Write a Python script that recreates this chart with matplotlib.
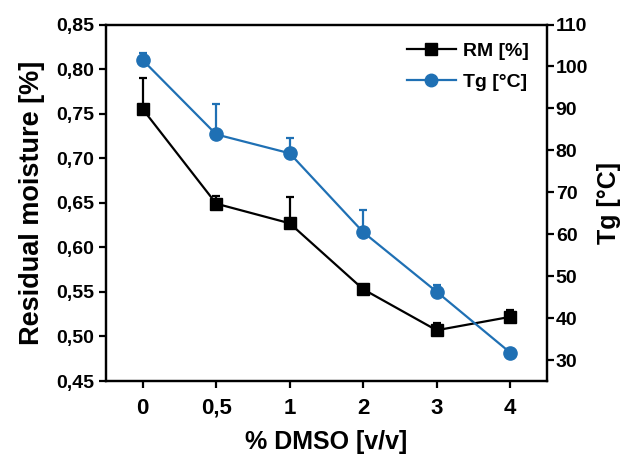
import numpy as np
import matplotlib.pyplot as plt
from matplotlib.lines import Line2D

plt.rcParams['font.family'] = ['Liberation Sans', 'DejaVu Sans']
plt.rcParams['font.weight'] = 'bold'

# data
dmso_labels = ['0', '0,5', '1', '2', '3', '4']
rm = [0.755, 0.649, 0.627, 0.553, 0.507, 0.522]
rm_err = [0.035, 0.009, 0.029, 0.002, 0.008, 0.008]
tg = [101.5, 83.8, 79.3, 60.5, 46.3, 31.8]
tg_err = [1.6, 7.2, 3.6, 5.3, 1.6, 0.0]

blue = '#1f70b4'
x = np.arange(len(dmso_labels))

fig = plt.figure(figsize=(6.2, 4.58), dpi=100)
ax = fig.add_axes([0.171, 0.168, 0.711, 0.7785])
ax2 = ax.twinx()

# one sided error bars (upper only)
ax.errorbar(x, rm, yerr=[np.zeros(len(rm)), rm_err], color='black',
            marker='s', markersize=8.5, lw=1.6, capsize=3, capthick=1.6,
            elinewidth=1.6)
ax2.errorbar(x, tg, yerr=[np.zeros(len(tg)), tg_err], color=blue,
             marker='o', markersize=9.5, lw=1.6, capsize=3, capthick=1.6,
             elinewidth=1.6)

ax.set_xlim(-0.5, 5.5)
ax.set_ylim(0.45, 0.85)
ax2.set_ylim(25, 110)
ax.set_xticks(x)
ax.set_xticklabels(dmso_labels, fontsize=16)
yt = np.arange(0.45, 0.851, 0.05)
ax.set_yticks(yt)
ax.set_yticklabels([f'{v:.2f}'.replace('.', ',') for v in yt], fontsize=14)
ax2.set_yticks(np.arange(30, 111, 10))
ax2.tick_params(axis='y', labelsize=14)

for a in (ax, ax2):
    for s in a.spines.values():
        s.set_linewidth(1.6)
    a.tick_params(width=1.6, length=5, direction='out')
ax.tick_params(axis='x', pad=7)
ax2.tick_params(axis='y', pad=1.5)

ax.set_xlabel('% DMSO [v/v]', fontsize=18, fontweight='bold', labelpad=8)
ax.set_ylabel('Residual moisture [%]', fontsize=19.5, fontweight='bold', labelpad=8)
ax2.set_ylabel('Tg [°C]', fontsize=18, fontweight='bold', labelpad=6)

handles = [Line2D([], [], color='black', marker='s', markersize=8, lw=1.6),
           Line2D([], [], color=blue, marker='o', markersize=9, lw=1.6)]
ax.legend(handles, ['RM [%]', 'Tg [°C]'], loc='upper right', frameon=False,
          prop={'size': 14, 'weight': 'bold'}, handlelength=2.5,
          handletextpad=0.4, borderaxespad=0.5, labelspacing=0.7)

fig.savefig('out.png', dpi=100)
